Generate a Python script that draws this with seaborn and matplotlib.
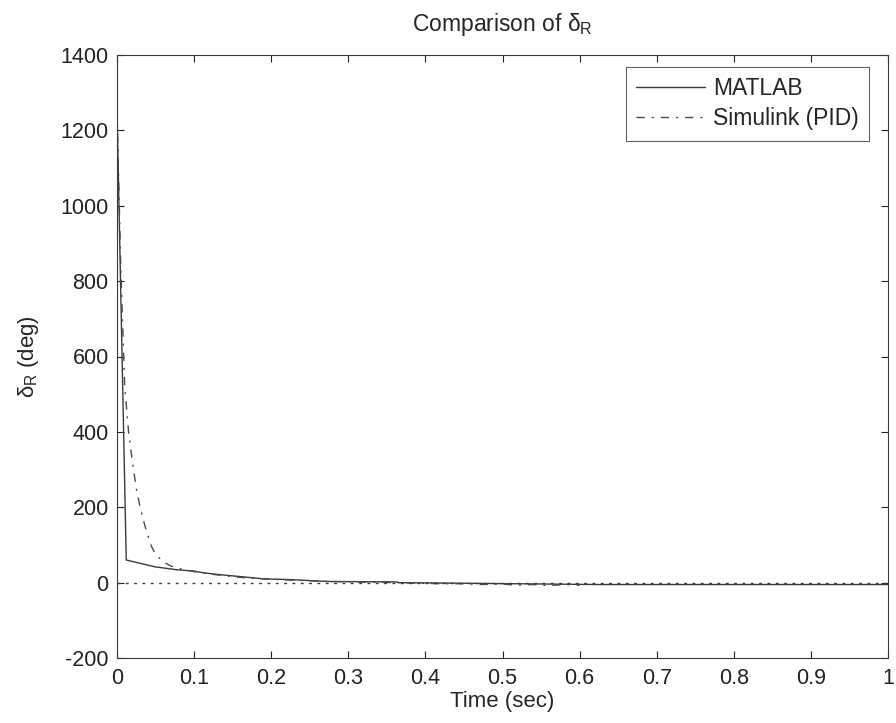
import matplotlib
matplotlib.use("Agg")
import matplotlib.pyplot as plt
import seaborn as sns
import pandas as pd

t_matlab = [0.0, 0.012, 0.049, 0.078, 0.099, 0.112, 0.134, 0.16, 0.19, 0.225, 0.273, 0.36, 0.367, 0.62, 1.0]
v_matlab = [1255, 60, 42, 34, 31, 26, 21, 16, 10, 8, 3, 2, 0, -5, -5]

t_sim = [0.0, 0.005, 0.01, 0.015, 0.02, 0.025, 0.03, 0.035, 0.04, 0.045, 0.05, 0.06, 0.07,
         0.08, 0.09, 0.1, 0.12, 0.14, 0.16, 0.18, 0.2, 0.22, 0.25, 0.28, 0.3, 0.33, 0.36,
         0.4, 0.42, 0.45, 0.47, 0.5, 0.52, 0.54, 0.56, 0.58, 0.6]
v_sim = [1255, 830, 520, 400, 320, 250, 200, 160, 125, 95, 75, 55, 44, 38, 33, 29, 23, 18,
         14, 11, 9, 7, 5, 3, 2, 1, 0, -2, -3, -3, -5, -4, -7, -5, -8, -5, -7]

t_ref = [0.0, 1.0]
v_ref = [0, 0]

x_ticks = [0, 0.1, 0.2, 0.3, 0.4, 0.5, 0.6, 0.7, 0.8, 0.9, 1]
x_ticklabels = ["0", "0.1", "0.2", "0.3", "0.4", "0.5", "0.6", "0.7", "0.8", "0.9", "1"]
y_ticks = [-200, 0, 200, 400, 600, 800, 1000, 1200, 1400]

sns.set_style("white")
plt.rcParams['font.family'] = ['Liberation Sans', 'DejaVu Sans']
plt.rcParams['mathtext.fontset'] = 'custom'
plt.rcParams['mathtext.rm'] = 'Liberation Sans'
plt.rcParams['mathtext.it'] = 'Liberation Sans'
plt.rcParams['axes.unicode_minus'] = False

fig = plt.figure(figsize=(8.96, 7.23), dpi=100)
ax = fig.add_axes([117 / 896, 1 - 658 / 723, 771 / 896, 603 / 723])

df_m = pd.DataFrame({"t": t_matlab, "v": v_matlab})
df_s = pd.DataFrame({"t": t_sim, "v": v_sim})
df_r = pd.DataFrame({"t": t_ref, "v": v_ref})

sns.lineplot(data=df_m, x="t", y="v", ax=ax, color="#3a3a3a", lw=1.0, label="MATLAB", sort=False)
sns.lineplot(data=df_s, x="t", y="v", ax=ax, color="#4a4a4a", lw=1.0, linestyle="-.",
             label="Simulink (PID)", sort=False)
sns.lineplot(data=df_r, x="t", y="v", ax=ax, color="#3a3a3a", lw=1.0, linestyle=":", sort=False)
lines = ax.get_lines()
lines[1].set_dashes((6, 5, 1.5, 5))
lines[2].set_dashes((2, 4))

ax.set_xlim(0, 1)
ax.set_ylim(-200, 1400)
ax.set_xticks(x_ticks)
ax.set_xticklabels(x_ticklabels)
ax.set_yticks(y_ticks)
ax.tick_params(direction="in", length=5, width=0.8, labelsize=15.5, colors="#222222",
               top=True, right=True, bottom=True, left=True)
ax.tick_params(axis="y", pad=6)
ax.tick_params(axis="x", pad=7)
for s in ax.spines.values():
    s.set_color("#3a3a3a")
    s.set_linewidth(0.8)

ax.set_xlabel("Time (sec)", fontsize=16, labelpad=2)
ax.set_ylabel(r"$\delta_\mathrm{R}$ (deg)", fontsize=16, labelpad=14)
ax.set_title(r"Comparison of $\delta_\mathrm{R}$", fontsize=16.5, pad=17)

leg = ax.legend(loc="upper right", bbox_to_anchor=(869 / 896, 1 - 67 / 723),
                bbox_transform=fig.transFigure, fontsize=16.5, frameon=True,
                fancybox=False, shadow=False, handlelength=3.0, handletextpad=0.35,
                borderpad=0.45, labelspacing=0.3, borderaxespad=0)
leg.get_frame().set_edgecolor("#3a3a3a")
leg.get_frame().set_linewidth(0.8)

fig.savefig("out.png", dpi=100, facecolor="white")
